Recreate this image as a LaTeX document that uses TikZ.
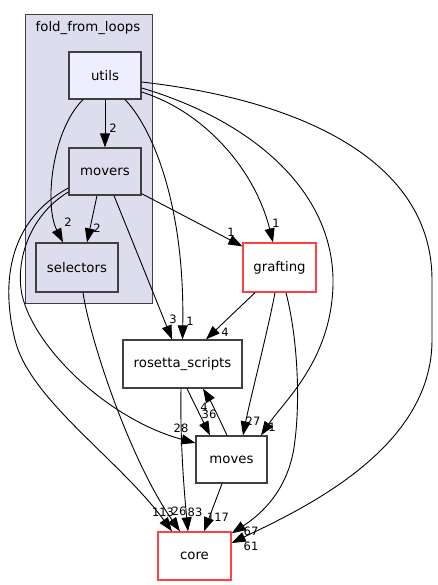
\documentclass[tikz,border=0pt]{standalone}
\usepackage{fontspec}
\setmainfont{DejaVu Sans}
\usetikzlibrary{arrows.meta,calc}
\definecolor{boxgray}{HTML}{404040}
\definecolor{clusterfill}{HTML}{DDDDEE}
\definecolor{utilsfill}{HTML}{EEEEFF}
\definecolor{redline}{HTML}{FF4040}
\tikzset{
  dirbox/.style={draw=boxgray, line width=1.3pt, inner sep=0pt, font=\fontsize{13.3}{15}\selectfont},
  extbox/.style={draw=redline, line width=1.3pt, fill=white, inner sep=0pt, font=\fontsize{13.3}{15}\selectfont},
  clusterbox/.style={draw=boxgray, line width=1pt, fill=clusterfill, inner sep=0pt},
  edge/.style={draw=black, line width=0.9pt, -{Triangle[length=14pt,width=10pt]}},
  lbl/.style={inner sep=0pt, font=\fontsize{11.5}{13}\selectfont},
}
\begin{document}
\begin{tikzpicture}[x=1pt,y=-1pt]
\useasboundingbox (0,0) rectangle (437,585);
% cluster
\node[clusterbox, minimum width=127pt, minimum height=288pt] (ffl) at (88.5,159) {};
\node[inner sep=0pt, font=\fontsize{13.3}{15}\selectfont] (ffltitle) at (88,28) {fold\_from\_loops};
% nodes
\node[dirbox, fill=utilsfill, minimum width=72pt, minimum height=47pt] (utils) at (105,75.5) {utils};
\node[dirbox, fill=clusterfill, minimum width=72pt, minimum height=47pt] (movers) at (105,171.5) {movers};
\node[dirbox, fill=clusterfill, minimum width=82pt, minimum height=49pt] (selectors) at (77,267.5) {selectors};
\node[dirbox, fill=white, minimum width=119pt, minimum height=48pt] (rosetta) at (182.5,364) {rosetta\_scripts};
\node[extbox, minimum width=73pt, minimum height=49pt] (grafting) at (279.5,267.5) {grafting};
\node[dirbox, fill=white, minimum width=71pt, minimum height=47pt] (moves) at (231.5,459.5) {moves};
\node[extbox, minimum width=73pt, minimum height=48pt] (core) at (194.5,556) {core};
% edges
\draw[edge] (utils) -- (movers);
\draw[edge] ($(utils.south)+(-22,0)$) .. controls (52,130) and (44,205) .. ($(selectors.north)+(-14,0)$);
\draw[edge] ($(movers.south)+(-8,0)$) -- ($(selectors.north)+(10,0)$);
\draw[edge] ($(utils.south)+(20,0)$) .. controls (150,125) and (185,200) .. (rosetta.north);
\draw[edge] ($(movers.south)+(9,0)$) -- ($(rosetta.north)+(-10.5,0)$);
\draw[edge] ($(grafting.south)+(-24.5,0)$) -- ($(rosetta.north)+(23.5,0)$);
\draw[edge] ($(movers.south east)+(0,-2)$) -- ($(grafting.north west)+(0,4)$);
\draw[edge] ($(utils.east)+(0,16.5)$) .. controls (205,112) and (255,170) .. ($(grafting.north)+(-6.5,0)$);
\draw[edge] ($(utils.east)+(0,12.5)$) .. controls (250,120) and (335,190) .. (333,285) .. controls (331,360) and (285,400) .. ($(moves.north)+(29.5,0)$);
\draw[edge] ($(utils.east)+(0,6.5)$) .. controls (300,100) and (432,160) .. (432,280) -- (432,340) .. controls (432,450) and (300,510) .. ($(core.east)+(0,-13)$);
\draw[edge] ($(grafting.south)+(-4.5,0)$) .. controls (268,330) and (250,400) .. ($(moves.north)+(11.5,0)$);
\draw[edge] ($(grafting.south)+(6.5,0)$) .. controls (298,340) and (300,400) .. (295,440) .. controls (290,490) and (260,515) .. ($(core.north east)+(0,2)$);
\draw[edge] ($(rosetta.south)+(4.5,0)$) -- ($(moves.north)+(-21.5,0)$);
\draw[edge] ($(moves.north)+(-4.5,0)$) .. controls (220,420) and (210,400) .. ($(rosetta.south)+(20.5,0)$);
\draw[edge] ($(rosetta.south)+(-1.5,0)$) .. controls (180,440) and (184,490) .. ($(core.north)+(-6.5,0)$);
\draw[edge] ($(moves.south)+(-9.5,0)$) -- ($(core.north)+(9.5,0)$);
\draw[edge] ($(movers.west)+(0,16.5)$) .. controls (10,220) and (0,280) .. (15,340) .. controls (30,400) and (120,460) .. ($(core.north)+(-22.5,0)$);
\draw[edge] ($(movers.west)+(0,20.5)$) .. controls (30,215) and (15,260) .. (22,295) .. controls (35,350) and (110,420) .. ($(moves.west)+(0,-16.5)$);
\draw[edge] ($(selectors.south)+(6,0)$) .. controls (90,340) and (130,460) .. ($(core.north)+(-14.5,0)$);
% labels
\node[lbl] (l1) at (113,128) {2};
\node[lbl] (l2) at (68,222) {2};
\node[lbl] (l3) at (97,228) {2};
\node[lbl] (l4) at (190,321) {1};
\node[lbl] (l5) at (173,319) {3};
\node[lbl] (l6) at (225,332) {4};
\node[lbl] (l7) at (231,232) {1};
\node[lbl] (l8) at (276,223) {1};
\node[lbl] (l9) at (272,427) {1};
\node[lbl] (l10) at (253,421) {27};
\node[lbl] (l11) at (209,414) {36};
\node[lbl] (l12) at (204,407) {4};
\node[lbl] (l13) at (181,428) {28};
\node[lbl] (l14) at (163,512) {113};
\node[lbl] (l15) at (179,511) {26};
\node[lbl] (l16) at (195,512) {83};
\node[lbl] (l17) at (218,517) {117};
\node[lbl] (l18) at (251,531) {67};
\node[lbl] (l19) at (251,546) {61};
\end{tikzpicture}
\end{document}
